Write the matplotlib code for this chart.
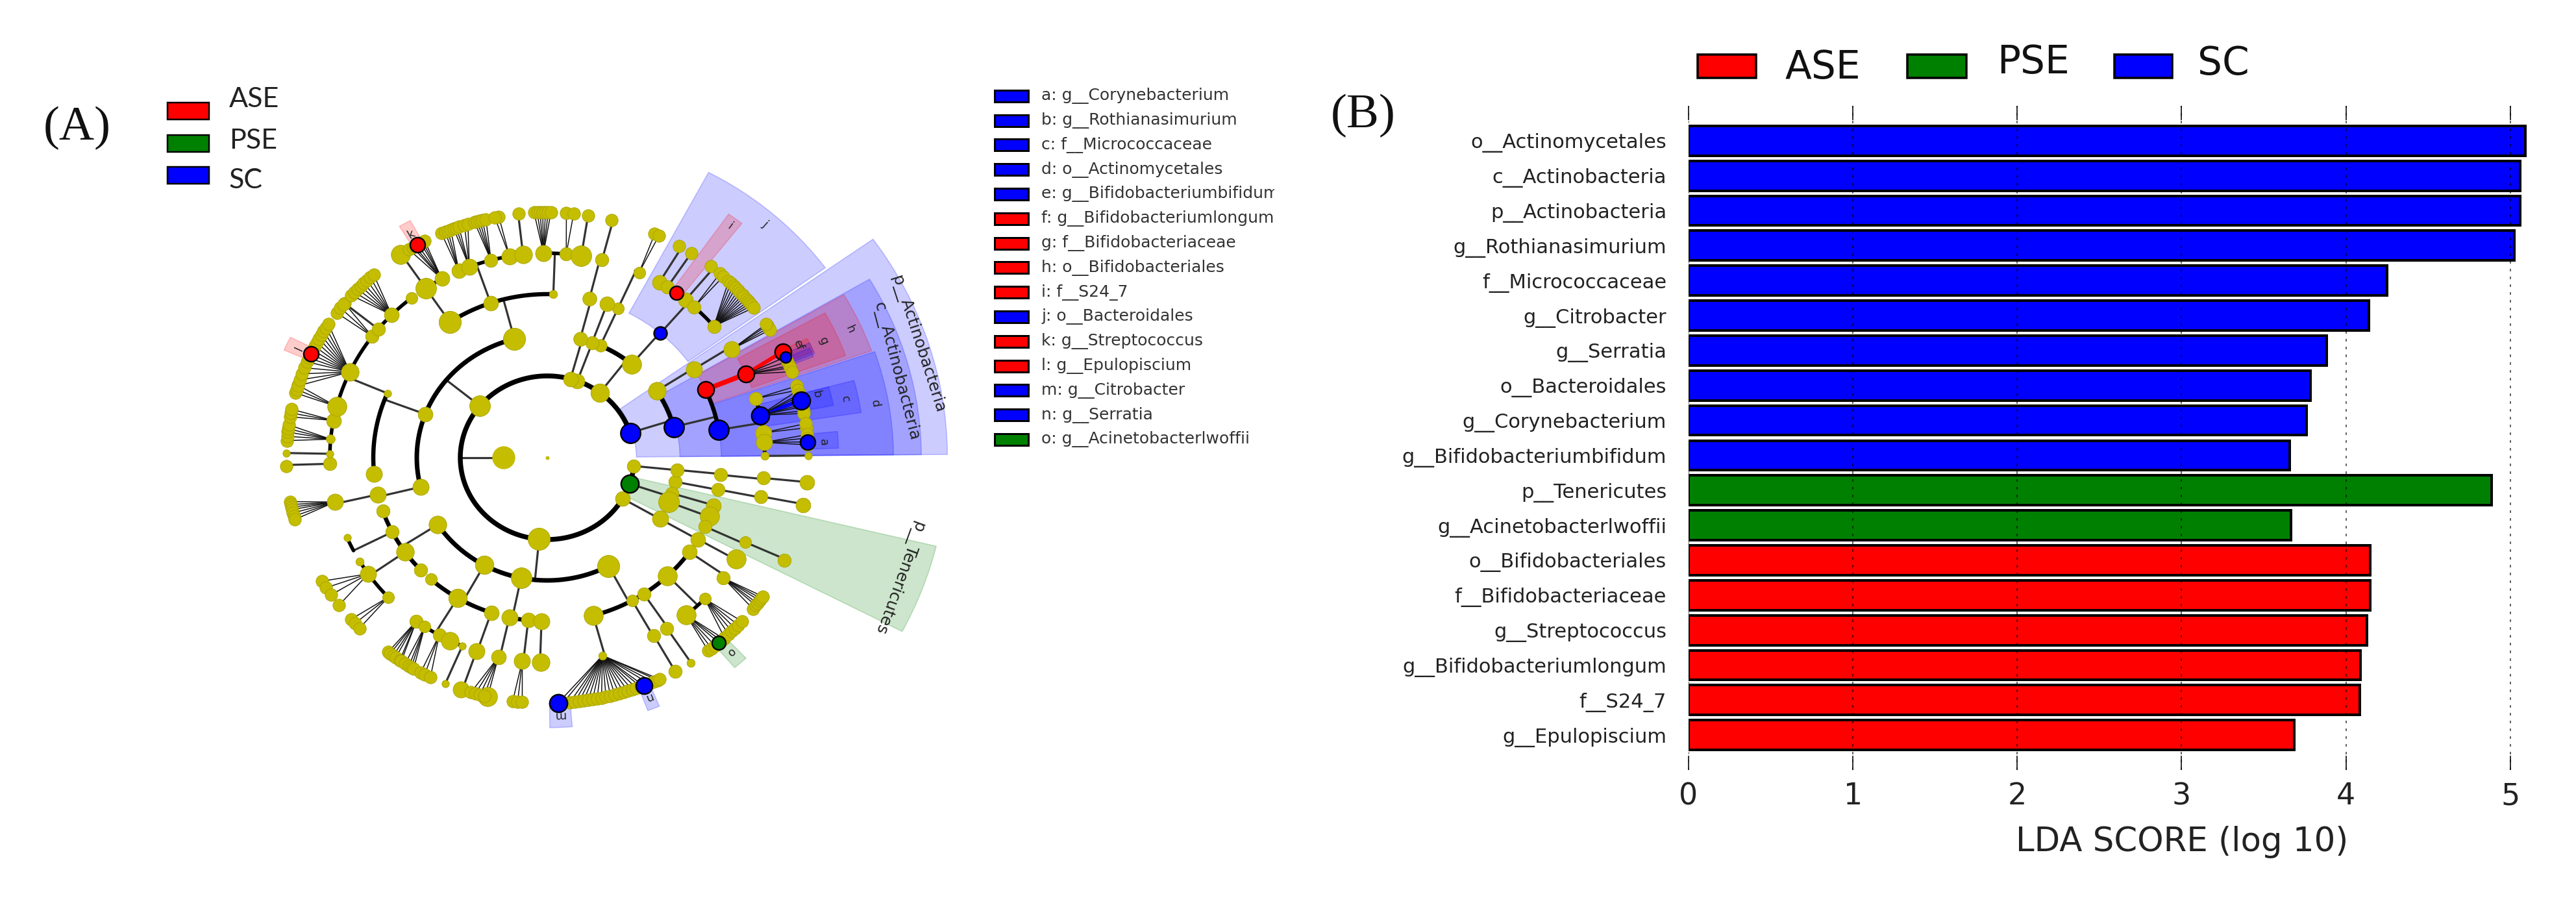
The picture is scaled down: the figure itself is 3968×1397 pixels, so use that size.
import numpy as np
import matplotlib
matplotlib.use("Agg")
import matplotlib.pyplot as plt
from matplotlib.patches import Rectangle
from matplotlib.transforms import Bbox

# ---------- panel B data ----------
taxa = ["o__Actinomycetales", "c__Actinobacteria", "p__Actinobacteria", "g__Rothianasimurium",
        "f__Micrococcaceae", "g__Citrobacter", "g__Serratia", "o__Bacteroidales", "g__Corynebacterium",
        "g__Bifidobacteriumbifidum", "p__Tenericutes", "g__Acinetobacterlwoffii", "o__Bifidobacteriales",
        "f__Bifidobacteriaceae", "g__Streptococcus", "g__Bifidobacteriumlongum", "f__S24_7", "g__Epulopiscium"]
lda = [5.094, 5.06, 5.06, 5.025, 4.25, 4.14, 3.885, 3.785, 3.76, 3.66, 4.885, 3.667,
       4.147, 4.147, 4.13, 4.09, 4.083, 3.687]
groups = ["SC"] * 10 + ["PSE"] * 2 + ["ASE"] * 6
group_names = ["ASE", "PSE", "SC"]
xticks = [0, 1, 2, 3, 4, 5]

# ---------- panel A legend ----------
clade_keys = list("abcdefghijklmno")
clade_names = ["g__Corynebacterium", "g__Rothianasimurium", "f__Micrococcaceae", "o__Actinomycetales",
               "g__Bifidobacteriumbifidum", "g__Bifidobacteriumlongum", "f__Bifidobacteriaceae",
               "o__Bifidobacteriales", "f__S24_7", "o__Bacteroidales", "g__Streptococcus", "g__Epulopiscium",
               "g__Citrobacter", "g__Serratia", "g__Acinetobacterlwoffii"]
clade_groups = ["SC", "SC", "SC", "SC", "SC", "ASE", "ASE", "ASE", "ASE", "SC", "ASE", "ASE", "SC", "SC", "PSE"]

# ---------- cladogram: node = (angle deg, size, children, group, branch group); a bare number is a leaf ----------
B, R, G = "SC", "ASE", "PSE"
actino = (17.7, 29, [
    (33, 24, [(32.7, 22, [(32, 22, [32.6, 32, 31.4, 33])])]),
    (14.5, 29, [
        (24.6, 24, [(24.1, 24, [(25.6, 24, [], R, R), (24.2, 16, [], B), 23, 22, 21.5, 20.5], R, R)], R),
        (9.8, 29, [
            (16.8, 18, [17, 16]),
            (12, 26, [(13.5, 26, [], B, B), 16, 15, 14.5, 12.5, 12, 11, 10.4], B),
            (7, 22, [7, 8]),
            (4.3, 22, [(3.7, 22, [], B), 5.4, 4.6, 3]),
            (0.5, 11, [(0.4, 10, [])]),
        ], B),
    ], B),
], B)
l2_b = (52.7, 25, [
    (66, 17, [(66, 16, [(65, 16, [65.7, 64.7])])]),
    (49.7, 26, [(49.5, 19, [
        (59, 20, [59.6]), (56.5, 18, [56.4]), (53.6, 20, [], R), (50.5, 20, [51.2]),
        (47.5, 18, [48.6, 47.6]),
        (40, 18, [46, 45.3, 44.5, 43.8, 43, 42.3, 41.6, 41, 40.3, 39.6, 39, 38.4, 37.7]),
    ], B)]),
])
l2_c = (69.8, 20, [(69.9, 18, [(70, 20, [])])])
l2_d = (74.5, 20, [(75.4, 19, [(76, 19, [(75.4, 18, [75.7])])])])
l2_e = (140.7, 28, [
    (104.6, 30, [
        (124, 30, [
            (124, 28, [(124.2, 26, [])]),
            (119, 20, [(119.8, 22, [], R), 122, 121, 120.5, 119, 118.5, 118]),
        ]),
        (109, 20, [
            (114, 20, [113.9, 113, 112.4, 111.7]),
            (111, 22, [111, 110.4, 109.8, 108.5, 107.7]),
            (105, 18, [106.2, 105.6, 105, 104.4, 103.6]),
            (100, 22, [100.7, 101.6]),
            (96.4, 24, [96.3]),
        ]),
        (88, 11, [
            (91, 22, [92.9, 92.2, 91.6, 91, 90.4, 89.8, 89.2]),
            (85, 18, [85.8, 84.2]),
            (81, 28, [81]),
        ]),
    ]),
    (159.2, 20, [
        (156.8, 10, [
            (181.7, 18, [182]),
            (178.9, 10, [(178.9, 10, [])]),
            (174.8, 12, [176, 175, 174, 173.2, 172.3]),
            (169.5, 20, [170.4, 169.5, 168.6]),
            (165.5, 26, [164.7, 163.8, 162.8]),
            (155.2, 24, [(155, 22, [], R), 163, 161.5, 160, 158.5, 157, 156, 154, 153, 152, 151, 150, 149,
                         148, 147]),
            (143.6, 18, [143.8, 142.4, 141]),
            (141, 18, [141.4]),
            (135.7, 20, [138.6, 137.6, 136.6, 135.6, 134.7, 133.7, 132.7, 131.7]),
            (128.7, 16, []),
        ]),
        (185.7, 22, []),
    ]),
    (193.8, 22, [(193, 22, [(192.5, 22, [190.3, 191, 191.6, 192.2, 193, 193.8, 194.6])])]),
])
l2_f = (264.6, 30, [
    (213, 24, [
        (207, 18, [(203, 10, [])]), (199, 18, []),
        (215.2, 24, [
            (214.6, 22, [210.2, 212, 214, 217]),
            (223, 16, [221.2, 222.5, 224]),
            (210.5, 11, []),
        ]),
        (223.3, 18, []),
    ]),
    (241.1, 25, [
        (228, 16, []),
        (239, 25, [
            (233, 18, [232.4, 233, 233.8, 234.5, 235.6, 236]),
            (235.7, 16, [237, 238, 238.6, 239.2]),
            (240.2, 18, [241, 242, 243.4]),
            (243.4, 24, []),
            (247, 10, [(247, 10, [])]),
        ]),
        (251.2, 20, [(251, 22, [(250.7, 22, [])])]),
    ]),
    (258.4, 28, [
        (257.4, 22, [(257, 20, [(256.8, 26, []), 253, 254, 255, 256])]),
        (263.7, 20, [(263.4, 22, [262.4, 263.5, 264.5])]),
        (268.1, 22, [(268.3, 24, [])]),
    ]),
    (298, 30, [
        (285.3, 26, [(284.7, 11, [
            (272.4, 26, [], B), (291.7, 24, [], B), 273.5, 275, 276, 277, 278, 279, 280, 281, 282, 283, 284,
            285, 286, 287, 288, 289, 290, 291, 293, 294, 295, 295.5,
        ])]),
        (299.2, 16, [(299.4, 18, [(299.4, 18, [])])]),
        (303.7, 18, [(303.4, 18, [(303.3, 11, [])])]),
        (313.8, 26, [
            (309.7, 26, [(311.1, 20, [], G), 308.1, 309, 310, 311.8, 312.5]),
            (316.4, 16, [312.8, 314, 315, 316, 317, 318.2]),
        ]),
        (324.8, 20, [(324, 18, [322, 323, 323.6, 324.4, 325, 325.6])]),
    ]),
])
l2_g = (330, 20, [(330, 22, [(330.1, 20, [(330.4, 26, [])])])])
l2_h = (341.4, 26, [
    (348.7, 18, [(348.8, 18, [(349.1, 18, [(348.8, 20, [])])])]),
    (343.1, 18, [(343, 20, [])]),
    (338.8, 28, [(339, 26, []), (335.1, 18, [(335.6, 16, [(335.3, 18, [])])])]),
], G)
l2_i = (354.2, 18, [(354.3, 18, [(354, 18, [(354.3, 18, [(354.2, 20, [])])])])])
root_children = [actino, l2_b, l2_c, l2_d, l2_e, l2_f, l2_g, l2_h, l2_i]
root_angle = 180
root_size = 31
center_angle = 0

# highlighted sectors of the cladogram
sector_group = [B, B, B, R, R, B, R, R, B, B, B, B, G, B, R, R, B, B, G]
sector_start = [0.5, 0.5, 0.5, 19.3, 20, 36, 52, 23, 8.7, 11, 2, 22, -27.5, 22.5, 118.5, 153.5, -89.5, -69.5, -50]
sector_end = [35.5, 30.5, 19, 30.3, 29, 62, 55, 26, 15, 15, 5.5, 24, -13.6, 25, 121, 156.5, -85, -67, -47]
sector_inner = [2.05, 3.05, 4, 4, 5, 4, 5, 6, 5, 6, 6, 6, 2.05, 6, 6, 6, 6, 6, 6]
sector_outer = [9.2, 8.6, 7.96, 7.9, 7.3, 7.9, 7.27, 6.65, 7.3, 6.7, 6.7, 6.6, 9.2, 6.65, 6.6, 6.6, 6.6, 6.6, 6.7]

letters = ["a", "b", "c", "d", "e", "f", "g", "h", "i", "j", "k", "l", "m", "n", "o"]
letter_angle = [3.4, 14.1, 11.8, 10, 25.8, 25.0, 24.2, 24.3, 53.4, 48.8, 119.8, 155, -87.5, -68.3, -48.5]
letter_level = [6.36, 6.38, 7, 7.65, 6.4, 6.4, 6.97, 7.63, 7.05, 7.6, 6.3, 6.3, 6.3, 6.3, 6.35]
long_names = ["p__Actinobacteria", "c__Actinobacteria", "p__Tenericutes"]
long_angle = [18, 14.7, -20]
long_level = [8.96, 8.3, 8.6]

COL = {"ASE": "#ff0000", "PSE": "#008000", "SC": "#0000ff"}
YEL = "#c4bd00"
W, H = 3968, 1397
px = 0.72
fig = plt.figure(figsize=(W / 100, H / 100), dpi=100, facecolor="white")


def axes_px(x0, y0, x1, y1, **kw):
    return fig.add_axes([x0 / W, 1 - y1 / H, (x1 - x0) / W, (y1 - y0) / H], **kw)


# ---------- overlay for legends and panel letters ----------
ov = axes_px(0, 0, W, H)
ov.set_xlim(0, W)
ov.set_ylim(H, 0)
ov.axis("off")
ov.set_zorder(5)
ov.patch.set_alpha(0)

# ---------- panel A cladogram ----------
cx, cy, rx, ry = 843, 705, 67, 63
pol = axes_px(cx - 10 * rx, cy - 10 * ry, cx + 10 * rx, cy + 10 * ry, projection="polar")
pol.set_aspect("auto")
pol.set_ylim(0, 10)
pol.axis("off")
rad = np.deg2rad

for g, a0, a1, r0, r1 in zip(sector_group, sector_start, sector_end, sector_inner, sector_outer):
    pol.bar(rad((a0 + a1) / 2), r1 - r0, width=rad(a1 - a0), bottom=r0, color=COL[g], alpha=0.2,
            edgecolor=COL[g], linewidth=1.2, zorder=1)

DEFAULT = {2: 24, 3: 22, 4: 22, 5: 20, 6: 17}
ARC = {2: 7.5, 3: 7, 4: 6.5, 5: 5.5, 6: 3}
SCALE = 1.14
nodes = []


def unpack(n, level):
    if not isinstance(n, tuple):
        return n % 360, DEFAULT[level], [], None, None
    ang = n[0] % 360
    return ang, n[1], n[2], (n[3] if len(n) > 3 else None), (n[4] if len(n) > 4 else None)


def walk(node, level):
    ang, size, kids, grp, _ = unpack(node, level)
    nodes.append((ang, level, size, grp))
    if not kids:
        return
    parsed = [unpack(k, level + 1) for k in kids]
    fan = level == 5 and len(kids) > 1
    if fan:
        for k in parsed:
            c, w = (COL[k[4]], 6) if k[4] else ("#111111", 1.5)
            pol.plot(rad([ang, k[0]]), [level, level + 1], color=c, lw=w * px, zorder=2,
                     solid_capstyle="round")
    else:
        pol.plot(rad([ang, ang]), [level, level + 1], color="#333333", lw=3.2 * px, zorder=2)
        angs = [k[0] for k in parsed] + [ang]
        if max(angs) - min(angs) > 0.4:
            t = np.linspace(min(angs), max(angs), 200)
            pol.plot(rad(t), np.full(t.size, level + 1), color="black", lw=ARC[level + 1] * px, zorder=2,
                     solid_capstyle="round")
        for k in parsed:
            if k[4]:
                pol.plot(rad([ang, k[0]]), [level, level + 1], color=COL[k[4]], lw=7.5 * px, zorder=2.5)
    for k in kids:
        walk(k, level + 1)


# root, first ring and everything beyond it
pol.plot(rad([root_angle, root_angle]), [1, 2], color="#333333", lw=3.2 * px, zorder=2)
t = np.linspace(17.7, 354.2, 400)
pol.plot(rad(t), np.full(t.size, 2), color="black", lw=7.5 * px, zorder=2, solid_capstyle="round")
for child in root_children:
    walk(child, 2)
pol.scatter(rad([center_angle]), [0], s=(6 * px) ** 2, color=YEL, zorder=3, linewidths=0)
pol.scatter(rad([root_angle]), [1], s=(root_size * SCALE * px) ** 2, color=YEL, edgecolor="none", zorder=3)

for ang, lev, size, grp in sorted(nodes, key=lambda n: n[3] is not None):
    col = COL[grp] if grp else YEL
    d = size * SCALE if not grp else size * 1.05
    pol.scatter(rad([ang]), [lev], s=(d * px) ** 2, color=col, edgecolor="black" if grp else "#a8a200",
                linewidths=(2.4 if grp else 0.8) * px, zorder=4 if grp else 3)

for s, a, r in zip(letters, letter_angle, letter_level):
    pol.text(rad(a), r, s, fontsize=13, rotation=a - 90, rotation_mode="anchor", ha="center", va="center",
             color="#222222", zorder=6)
for s, a, r in zip(long_names, long_angle, long_level):
    pol.text(rad(a), r, s, fontsize=18, rotation=a - 90, rotation_mode="anchor", ha="center", va="center",
             color="#222222", zorder=6)

# ---------- panel A legends ----------
left_top = [158, 208, 257]
for name, y in zip(group_names, left_top):
    ov.add_patch(Rectangle((258, y), 64, 26, facecolor=COL[name], edgecolor="black", lw=2.5 * px))
for name, y in zip(group_names, [153, 217, 278]):
    ov.text(353, y, name, fontsize=31, family="Lato", va="center", ha="left", color="#222222")
ov.text(67, 197, "(A)", fontsize=54, family="Liberation Serif", va="center", ha="left", color="#111111")

clip = Bbox([[1500, 0], [1963, H]])
for i, (key, name, grp) in enumerate(zip(clade_keys, clade_names, clade_groups)):
    y = 147.7 + 37.8 * i
    ov.add_patch(Rectangle((1532, y - 9), 52, 18, facecolor=COL[grp], edgecolor="black", lw=3 * px))
    tx = ov.text(1604, y, f"{key}: {name}", fontsize=18, va="center", ha="left", color="#333333")
    tx.set_clip_box(clip)
    tx.set_clip_on(True)

# ---------- panel B ----------
ax = axes_px(2601, 163, 3892, 1186)
pos = np.arange(len(taxa))
ax.barh(pos, lda, height=0.85, color=[COL[g] for g in groups], edgecolor="black", linewidth=4 * px, zorder=2)
ax.set_xlim(0, 5.1)
ax.set_ylim(18, -1)
ax.set_xticks(xticks)
ax.set_yticks(pos)
ax.set_yticklabels(taxa, fontsize=22, color="#222222")
ax.tick_params(axis="y", length=0, pad=34 * px)
ax.tick_params(axis="x", direction="in", length=22 * px, width=1.6 * px, top=True, bottom=True, labelsize=33,
               pad=18 * px, labelcolor="#222222")
for s in ax.spines.values():
    s.set_visible(False)
ax.grid(axis="x", linestyle=(0, (2.5, 5)), color="black", lw=1.6 * px, alpha=0.75, zorder=3)
ax.set_axisbelow(False)
ax.set_xlabel("LDA SCORE (log 10)", fontsize=37, color="#222222")
ax.xaxis.set_label_coords((3361 - 2601) / 1291, -(1297 - 1186) / 1023)
ax.xaxis.label.set_va("center")

for name, x0, x1, tx, ty in zip(group_names, [2615, 2938, 3257], [2705, 3029, 3346], [2750, 3076, 3385],
                                [105, 97, 98]):
    ov.add_patch(Rectangle((x0, 84), x1 - x0, 36, facecolor=COL[name], edgecolor="black", lw=3.5 * px))
    ov.text(tx, ty, name, fontsize=43, va="center", ha="left", color="#111111")
ov.text(2050, 178, "(B)", fontsize=54, family="Liberation Serif", va="center", ha="left", color="#111111")

fig.savefig("out.png", dpi=100, facecolor="white")
